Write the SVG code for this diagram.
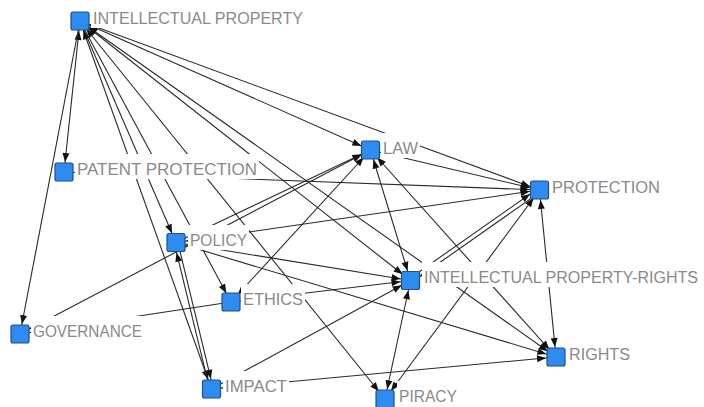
<svg xmlns="http://www.w3.org/2000/svg" width="704" height="407" viewBox="0 0 704 407">
<style>
.e line{stroke:#2a2a2a;stroke-width:1.1;fill:none}
.a{marker-end:url(#ah)}
.b{marker-start:url(#ah);marker-end:url(#ah)}
.n rect.s{fill:#2e8bef;stroke:#1f4e8c;stroke-width:1.2}
.n rect.bg{fill:#ffffff}
.n text{font-family:"Liberation Sans",Arial,sans-serif;font-size:17px;fill:#8a8a8a}
.n text.sm{font-size:16px}
</style>
<defs>
<marker id="ah" viewBox="0 0 9 7" refX="19" refY="3.5" markerWidth="9" markerHeight="7" markerUnits="userSpaceOnUse" orient="auto-start-reverse" overflow="visible">
<path d="M0,0 L9,3.5 L0,7 z" fill="#111"/>
</marker>
</defs>
<rect width="704" height="407" fill="#ffffff"/>
<g id="connectors" class="e">
<line class="b" x1="80" y1="21" x2="64" y2="172"/>
<line class="a" x1="80" y1="21" x2="20" y2="334"/>
<line class="a" x1="80" y1="21" x2="176" y2="242.5"/>
<line class="b" x1="80" y1="21" x2="211.5" y2="389"/>
<line class="b" x1="80" y1="21" x2="385" y2="399"/>
<line class="a" x1="80" y1="21" x2="231" y2="302"/>
<line class="b" x1="80" y1="21" x2="370.5" y2="150"/>
<line class="b" x1="80" y1="21" x2="539.5" y2="190"/>
<line class="b" x1="80" y1="21" x2="410.5" y2="280.5"/>
<line class="b" x1="80" y1="21" x2="556" y2="357"/>
<line class="a" x1="64" y1="172" x2="539.5" y2="190"/>
<line class="a" x1="176" y1="242.5" x2="370.5" y2="150"/>
<line class="b" x1="20" y1="334" x2="370.5" y2="150"/>
<line class="a" x1="177.75" y1="242.08" x2="213.25" y2="388.58"/>
<line class="a" x1="209.75" y1="389.42" x2="174.25" y2="242.92"/>
<line class="a" x1="176" y1="242.5" x2="410.5" y2="280.5"/>
<line class="a" x1="176" y1="242.5" x2="556" y2="357"/>
<line class="b" x1="176" y1="242.5" x2="539.5" y2="190"/>
<line class="a" x1="370.5" y1="150" x2="539.5" y2="190"/>
<line class="b" x1="539.5" y1="190" x2="556" y2="357"/>
<line class="b" x1="370.5" y1="150" x2="410.5" y2="280.5"/>
<line class="b" x1="370.5" y1="150" x2="556" y2="357"/>
<line class="b" x1="370.5" y1="150" x2="231" y2="302"/>
<line class="a" x1="231" y1="302" x2="410.5" y2="280.5"/>
<line class="a" x1="231" y1="302" x2="20" y2="334"/>
<line class="b" x1="211.5" y1="389" x2="556" y2="357"/>
<line class="a" x1="211.5" y1="389" x2="410.5" y2="280.5"/>
<line class="b" x1="410.5" y1="280.5" x2="385" y2="399"/>
<line class="b" x1="539.5" y1="190" x2="385" y2="399"/>
<line class="a" x1="409.3" y1="278.8" x2="538.3" y2="188.3"/>
<line class="a" x1="540.7" y1="191.7" x2="411.7" y2="282.2"/>
</g>
<g id="n-intellectual-property" class="n">
<rect class="s" x="71" y="12" width="18" height="18" rx="2"/>
<rect class="bg" x="91" y="3" width="214" height="25"/>
<text x="93" y="24" textLength="210" lengthAdjust="spacingAndGlyphs">INTELLECTUAL PROPERTY</text>
</g>
<g id="n-patent-protection" class="n">
<rect class="s" x="55" y="163" width="18" height="18" rx="2"/>
<rect class="bg" x="75" y="154" width="184" height="25"/>
<text x="77" y="175" textLength="180" lengthAdjust="spacingAndGlyphs">PATENT PROTECTION</text>
</g>
<g id="n-law" class="n">
<rect class="s" x="361.5" y="141" width="18" height="18" rx="2"/>
<rect class="bg" x="381" y="133" width="39" height="25"/>
<text x="383" y="154" textLength="35" lengthAdjust="spacingAndGlyphs">LAW</text>
</g>
<g id="n-protection" class="n">
<rect class="s" x="530.5" y="181" width="18" height="18" rx="2"/>
<rect class="bg" x="550" y="172" width="112" height="25"/>
<text x="552" y="193" textLength="108" lengthAdjust="spacingAndGlyphs">PROTECTION</text>
</g>
<g id="n-policy" class="n">
<rect class="s" x="167" y="233.5" width="18" height="18" rx="2"/>
<rect class="bg" x="188" y="225" width="61" height="25"/>
<text x="190" y="246" textLength="57" lengthAdjust="spacingAndGlyphs">POLICY</text>
</g>
<g id="n-intellectual-property-rights" class="n">
<rect class="s" x="401.5" y="271.5" width="18" height="18" rx="2"/>
<rect class="bg" x="422" y="262" width="278" height="25"/>
<text class="sm" x="424" y="283" textLength="274" lengthAdjust="spacingAndGlyphs">INTELLECTUAL PROPERTY-RIGHTS</text>
</g>
<g id="n-ethics" class="n">
<rect class="s" x="222" y="293" width="18" height="18" rx="2"/>
<rect class="bg" x="241" y="284" width="64" height="25"/>
<text x="243" y="305" textLength="60" lengthAdjust="spacingAndGlyphs">ETHICS</text>
</g>
<g id="n-governance" class="n">
<rect class="s" x="11" y="325" width="18" height="18" rx="2"/>
<rect class="bg" x="31" y="316" width="113" height="25"/>
<text x="33" y="337" textLength="109" lengthAdjust="spacingAndGlyphs">GOVERNANCE</text>
</g>
<g id="n-rights" class="n">
<rect class="s" x="547" y="348" width="18" height="18" rx="2"/>
<rect class="bg" x="567" y="339" width="65" height="25"/>
<text x="569" y="360" textLength="61" lengthAdjust="spacingAndGlyphs">RIGHTS</text>
</g>
<g id="n-impact" class="n">
<rect class="s" x="202.5" y="380" width="18" height="18" rx="2"/>
<rect class="bg" x="223" y="371" width="66" height="25"/>
<text x="225" y="392" textLength="62" lengthAdjust="spacingAndGlyphs">IMPACT</text>
</g>
<g id="n-piracy" class="n">
<rect class="s" x="376" y="390" width="18" height="18" rx="2"/>
<rect class="bg" x="397" y="381" width="62" height="26"/>
<text x="399" y="402" textLength="58" lengthAdjust="spacingAndGlyphs">PIRACY</text>
</g>
</svg>
